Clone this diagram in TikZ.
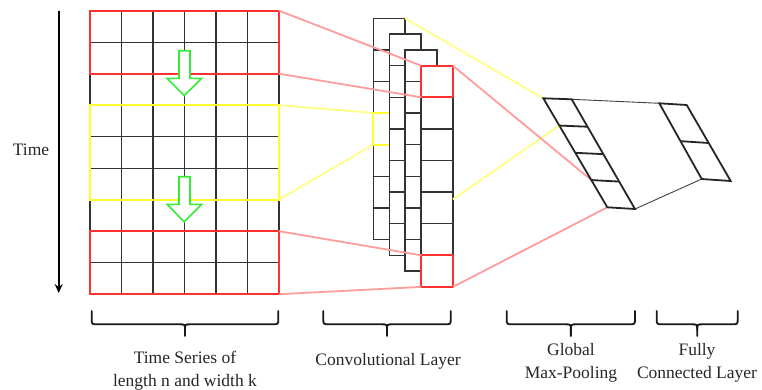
\documentclass[tikz,border=0pt]{standalone}
\usepackage{fontspec}
\setmainfont{Liberation Serif}
\usetikzlibrary{arrows.meta,calc}
\definecolor{bred}{HTML}{FF3030}
\definecolor{pred}{HTML}{FF9C9C}
\definecolor{byel}{HTML}{FFFF30}
\definecolor{pyel}{HTML}{FFFF85}
\definecolor{bgreen}{HTML}{33EE33}
\definecolor{gline}{HTML}{333333}
\begin{document}
\begin{tikzpicture}[x=1pt,y=-1pt,
  gridline/.style={gline,line width=1.3pt},
  redbox/.style={bred,line width=2pt},
  yelbox/.style={byel,line width=2pt},
  redcon/.style={pred,line width=1.8pt},
  yelcon/.style={pyel,line width=1.8pt},
  layerbox/.style={gline,line width=1.5pt,fill=white},
  poolbox/.style={black!85,line width=1.8pt,fill=white},
  thincon/.style={black!75,line width=0.9pt},
  greenarrow/.style={bgreen,line width=1.6pt,fill=white,line join=miter},
  bracestyle/.style={black!90,line width=1.8pt,line cap=round},
  lbl/.style={font=\fontsize{17.5}{22.5}\selectfont,text=black!85,align=center,inner sep=0pt}]
\useasboundingbox (0,0) rectangle (762,389);
% ---------- time axis
\coordinate (t0) at (58.7,10.7);
\coordinate (t1) at (58.7,293);
\draw[black,line width=1.8pt,-{Stealth[length=9pt,width=8pt]}] (t0) -- (t1);
\node[lbl] (timelbl) at (31,150) {Time};
% ---------- grid
\foreach \i in {0,...,9} \draw[gridline] (90,10.7+31.5*\i) -- (279,10.7+31.5*\i);
\foreach \j in {0,...,6} \draw[gridline] (90+31.5*\j,10.7) -- (90+31.5*\j,294.2);
\coordinate (g1) at (279,10.7);
\coordinate (g2) at (279,73.7);
\coordinate (g3) at (279,105.2);
\coordinate (g4) at (279,199.7);
\coordinate (g5) at (279,231.2);
\coordinate (g6) at (279,294.2);
\draw[redbox] (90,10.7) rectangle (g2);
\draw[yelbox] (90,105.2) rectangle (g4);
\draw[redbox] (90,231.2) rectangle (g6);
% green arrows
\draw[greenarrow] (179,50.7) -- (190,50.7) -- (190,78.3) -- (201.7,78.3) -- (184.3,95.5) -- (167,78.3) -- (179,78.3) -- cycle;
\draw[greenarrow] (179,176.7) -- (190,176.7) -- (190,204.3) -- (201.7,204.3) -- (184.3,221.8) -- (167,204.3) -- (179,204.3) -- cycle;
% ---------- convolutional layers
\foreach \k in {0,1,2,3} {
  \pgfmathsetmacro\lx{373.3+15.97*\k}
  \pgfmathsetmacro\ly{18.3+15.8*\k}
  \draw[layerbox] (\lx,\ly) rectangle (\lx+31.7,\ly+221.2);
  \foreach \c in {1,...,6} \draw[gridline,line width=1.4pt] (\lx,\ly+31.6*\c) -- (\lx+31.7,\ly+31.6*\c);
  \ifnum\k=0 \draw[yelbox] (373.3,112.9) rectangle (405,144.5); \fi
}
\coordinate (b-tl) at (373.3,112.9);
\coordinate (b-bl) at (373.3,144.5);
\coordinate (b-tr) at (405,18.3);
\coordinate (f1) at (421.2,65.7);
\coordinate (f2) at (421.2,97.3);
\coordinate (f3) at (421.2,255.3);
\coordinate (f4) at (421.2,286.9);
\coordinate (fr1) at (452.9,65.7);
\coordinate (fr2) at (452.9,199.3);
\coordinate (fr4) at (452.9,286.9);
\draw[redbox] (f1) rectangle (452.9,97.3);
\draw[redbox] (f3) rectangle (fr4);
% ---------- pooling
\coordinate (p-tl) at (543.3,98.3);
\coordinate (p-tr) at (571.7,99.3);
\coordinate (p-br) at (635,209);
\coordinate (p-bl) at (607.3,207.3);
\coordinate (p-l1) at ($(p-tl)!0.25!(p-bl)$);
\coordinate (p-l2) at ($(p-tl)!0.5!(p-bl)$);
\coordinate (p-l3) at ($(p-tl)!0.75!(p-bl)$);
\coordinate (p-r1) at ($(p-tr)!0.25!(p-br)$);
\coordinate (p-r2) at ($(p-tr)!0.5!(p-br)$);
\coordinate (p-r3) at ($(p-tr)!0.75!(p-br)$);
% ---------- fully connected
\coordinate (c-tl) at (659.3,103.3);
\coordinate (c-tr) at (686.7,105);
\coordinate (c-br) at (730.7,181);
\coordinate (c-bl) at (701.7,179);
% connectors
\draw[redcon] (g1) -- (f1);
\draw[redcon] (g2) -- (f2);
\draw[redcon] (g5) -- (f3);
\draw[redcon] (g6) -- (f4);
\draw[yelcon] (g3) -- (b-tl);
\draw[yelcon] (g4) -- (b-bl);
\draw[yelcon] (b-tr) -- (p-tl);
\draw[yelcon] (fr2) -- (p-l1);
\draw[redcon] (fr1) -- (p-l3);
\draw[redcon] (fr4) -- (p-bl);
\draw[thincon] (p-tr) -- (c-tl);
\draw[thincon] (p-br) -- (c-bl);
\draw[poolbox] (p-tl) -- (p-tr) -- (p-br) -- (p-bl) -- cycle;
\draw[poolbox] (p-l1) -- (p-r1) (p-l2) -- (p-r2) (p-l3) -- (p-r3);
\draw[poolbox] (c-tl) -- (c-tr) -- (c-br) -- (c-bl) -- cycle;
\draw[poolbox] ($(c-tl)!0.5!(c-bl)$) -- ($(c-tr)!0.5!(c-br)$);
% ---------- braces
\newcommand\mybrace[2]{%
  \pgfmathsetmacro\bm{(#1+#2)/2}
  \draw[bracestyle] (#1,311) -- (#1,318.5) .. controls (#1,324.3) .. (#1+6,324.3) -- (\bm-6,324.3) .. controls (\bm,324.3) .. (\bm,330) -- (\bm,336);
  \draw[bracestyle] (#2,311) -- (#2,318.5) .. controls (#2,324.3) .. (#2-6,324.3) -- (\bm+6,324.3) .. controls (\bm,324.3) .. (\bm,330);
}
\mybrace{91.7}{278.3}
\mybrace{323.3}{450.7}
\mybrace{506.7}{635}
\mybrace{656.7}{737.7}
\node[lbl] (lab1) at (185,370.5) {Time Series of\\length n and width k};
\node[lbl] (lab2) at (388,361.7) {Convolutional Layer};
\node[lbl] (lab3) at (571,363) {Global\\Max-Pooling};
\node[lbl] (lab4) at (697,363) {Fully\\Connected Layer};
\end{tikzpicture}
\end{document}
